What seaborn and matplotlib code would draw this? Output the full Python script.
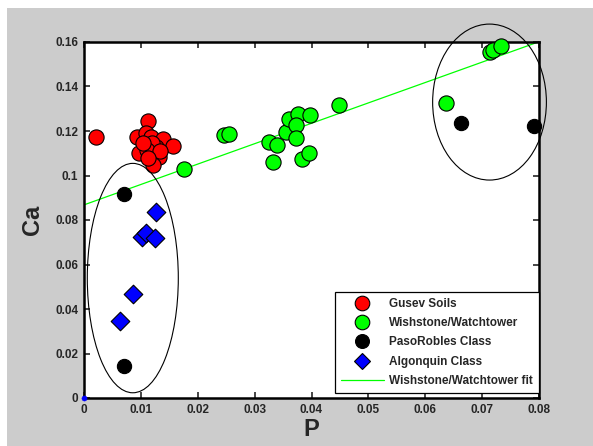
import matplotlib
matplotlib.use("Agg")
import matplotlib.pyplot as plt
import seaborn as sns
import numpy as np
import pandas as pd
from matplotlib.patches import Ellipse, Rectangle
from matplotlib.lines import Line2D

# ---- data ----
gusev_P = [0.0021, 0.0113, 0.0093, 0.0109, 0.0117, 0.0139, 0.0157, 0.0096, 0.0127,
           0.0119, 0.0132, 0.0122, 0.0110, 0.0104, 0.0134, 0.0113]
gusev_Ca = [0.1172, 0.1246, 0.1172, 0.1190, 0.1172, 0.1163, 0.1131, 0.1100, 0.1126,
            0.1144, 0.1085, 0.1047, 0.1115, 0.1144, 0.1108, 0.1078]

wish_P = [0.0175, 0.0246, 0.0255, 0.0325, 0.0340, 0.0332, 0.0355, 0.0361, 0.0377,
          0.0373, 0.0372, 0.0398, 0.0383, 0.0395, 0.0449, 0.0636, 0.0713, 0.0720, 0.0733]
wish_Ca = [0.1027, 0.1182, 0.1187, 0.1149, 0.1135, 0.1059, 0.1195, 0.1254, 0.1276,
           0.1227, 0.1170, 0.1272, 0.1076, 0.1103, 0.1318, 0.1324, 0.1556, 0.1564, 0.1582]

paso_P = [0.0071, 0.0071, 0.0663, 0.0792]
paso_Ca = [0.0915, 0.0145, 0.1237, 0.1221]

algon_P = [0.0127, 0.0102, 0.0109, 0.0125, 0.0087, 0.0063]
algon_Ca = [0.0835, 0.0722, 0.0743, 0.0717, 0.0469, 0.0346]

fit_intercept = 0.0868
fit_slope = 0.9165
fit_P = [0.0, 0.08]

x_ticks = [0, 0.01, 0.02, 0.03, 0.04, 0.05, 0.06, 0.07, 0.08]
x_ticklabels = ["0", "0.01", "0.02", "0.03", "0.04", "0.05", "0.06", "0.07", "0.08"]
y_ticks = [0, 0.02, 0.04, 0.06, 0.08, 0.1, 0.12, 0.14, 0.16]
y_ticklabels = ["0", "0.02", "0.04", "0.06", "0.08", "0.1", "0.12", "0.14", "0.16"]

# ellipses (center x, center y, width, height) in data units
ellipse_left = (0.00858, 0.0539, 0.0160, 0.1031)
ellipse_right = (0.0713, 0.1330, 0.0200, 0.0701)

# ---- figure ----
sns.set_style("white")
plt.rcParams['font.family'] = ['Liberation Sans', 'DejaVu Sans']

fig = plt.figure(figsize=(5.93, 4.46), dpi=100, facecolor="white")
fig.patches.append(Rectangle((7/593, 0), 1 - 7/593, 1 - 8/446, transform=fig.transFigure,
                             facecolor="#cccccc", edgecolor="none", zorder=-10))
ax = fig.add_axes([84/593, 1 - 398/446, 455/593, 356/446])
ax.set_facecolor("white")

df_g = pd.DataFrame({"P": gusev_P, "Ca": gusev_Ca})
df_w = pd.DataFrame({"P": wish_P, "Ca": wish_Ca})
df_p = pd.DataFrame({"P": paso_P, "Ca": paso_Ca})
df_a = pd.DataFrame({"P": algon_P, "Ca": algon_Ca})

ms = 120
sns.scatterplot(data=df_g, x="P", y="Ca", ax=ax, color="#ff0000", edgecolor="black",
                linewidth=0.8, s=ms, marker="o", zorder=4, legend=False)
sns.scatterplot(data=df_w, x="P", y="Ca", ax=ax, color="#00ff00", edgecolor="black",
                linewidth=0.8, s=ms, marker="o", zorder=3, legend=False, clip_on=False)
sns.scatterplot(data=df_p, x="P", y="Ca", ax=ax, color="black", edgecolor="black",
                linewidth=0.8, s=105, marker="o", zorder=4, legend=False, clip_on=False)
sns.scatterplot(data=df_a, x="P", y="Ca", ax=ax, color="#0000ff", edgecolor="black",
                linewidth=0.8, s=90, marker="D", zorder=4, legend=False)
# stray point at origin
sns.scatterplot(x=[0.0], y=[0.0], ax=ax, color="#0000ff", edgecolor="#0000ff",
                s=14, marker="o", zorder=6, legend=False, clip_on=False)

fit_df = pd.DataFrame({"P": fit_P, "Ca": [fit_intercept + fit_slope * p for p in fit_P]})
sns.lineplot(data=fit_df, x="P", y="Ca", ax=ax, color="#00ff00", linewidth=0.9, zorder=2)

for (cx, cy, w, h) in (ellipse_left, ellipse_right):
    e = Ellipse((cx, cy), w, h, facecolor="none", edgecolor="black", linewidth=0.8,
                zorder=5, clip_on=False)
    ax.add_patch(e)

ax.set_xlim(0, 0.08)
ax.set_ylim(0, 0.16)
ax.set_xticks(x_ticks)
ax.set_xticklabels(x_ticklabels, fontsize=8.5, fontweight="bold")
ax.set_yticks(y_ticks)
ax.set_yticklabels(y_ticklabels, fontsize=8.5, fontweight="bold")
ax.tick_params(direction="in", length=4, width=1.2, top=True, right=True,
               bottom=True, left=True, pad=4)
for s in ax.spines.values():
    s.set_linewidth(1.8)
    s.set_color("black")

ax.set_xlabel("P", fontsize=17, fontweight="bold", labelpad=2)
ax.set_ylabel("Ca", fontsize=17, fontweight="bold", labelpad=8)

handles = [
    Line2D([], [], marker="o", linestyle="none", markerfacecolor="#ff0000",
           markeredgecolor="black", markersize=10.5, markeredgewidth=0.8),
    Line2D([], [], marker="o", linestyle="none", markerfacecolor="#00ff00",
           markeredgecolor="black", markersize=10.5, markeredgewidth=0.8),
    Line2D([], [], marker="o", linestyle="none", markerfacecolor="black",
           markeredgecolor="black", markersize=10, markeredgewidth=0.8),
    Line2D([], [], marker="D", linestyle="none", markerfacecolor="#0000ff",
           markeredgecolor="black", markersize=8.5, markeredgewidth=0.8),
    Line2D([], [], color="#00ff00", linewidth=0.9),
]
labels = ["Gusev Soils", "Wishstone/Watchtower", "PasoRobles Class",
          "Algonquin Class", "Wishstone/Watchtower fit"]
leg = ax.legend(handles, labels, loc="lower right", bbox_to_anchor=(0.999, 0.014),
                prop={"size": 8.5, "weight": "bold"}, frameon=True, fancybox=False,
                edgecolor="black", framealpha=1, handlelength=3.6, handletextpad=0.45,
                labelspacing=0.62, borderpad=0.5, borderaxespad=0)
leg.get_frame().set_linewidth(0.9)
leg.set_zorder(10)

fig.savefig("out.png", dpi=100, facecolor=fig.get_facecolor())
